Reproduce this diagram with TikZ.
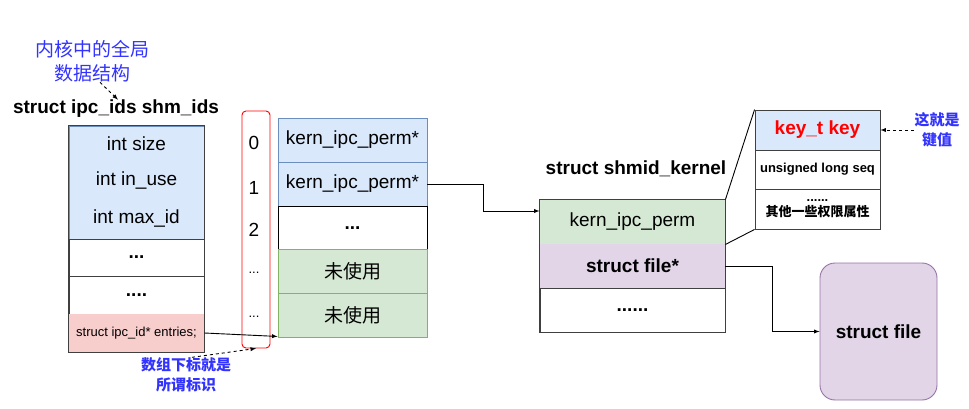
\documentclass[tikz,border=0pt]{standalone}
\usepackage{fontspec}
\setmainfont{Liberation Sans}
\newfontfamily\cjk{Noto Sans CJK SC}
\definecolor{blfill}{HTML}{DAE8FC}
\definecolor{bldraw}{HTML}{6C8EBF}
\definecolor{grfill}{HTML}{D5E8D4}
\definecolor{grdraw}{HTML}{82B366}
\definecolor{pkfill}{HTML}{F8CECC}
\definecolor{pkdraw}{HTML}{B85450}
\definecolor{pufill}{HTML}{E1D5E7}
\definecolor{pudraw}{HTML}{9673A6}
\definecolor{notecol}{HTML}{3333FF}

\begin{document}
\begin{tikzpicture}[x=1pt,y=-1pt,line width=0.9pt,
	every node/.style={inner sep=0pt},
	big/.style={font=\fontsize{19}{23}\selectfont},
	bigb/.style={font=\bfseries\fontsize{19}{23}\selectfont},
	small/.style={font=\fontsize{13}{16}\selectfont},
	smallb/.style={font=\bfseries\fontsize{13}{15}\selectfont},
	note/.style={align=center,text=notecol,font=\cjk\bfseries\fontsize{15}{20}\selectfont},
	idcell/.style={draw=black!75,minimum width=135pt,minimum height=#1},
	arrcell/.style={draw=black!75,minimum width=149pt,minimum height=44pt},
	shmcell/.style={draw=black!75,minimum width=185pt,minimum height=44pt},
	keycell/.style={draw=black!75,minimum width=125pt,minimum height=#1},
	dashedarrow/.style={-latex,dash pattern=on 3pt off 3pt}]
	\useasboundingbox (0,0) rectangle (969,409);
	% struct ipc_ids
	\node[align=center,text=notecol,font=\cjk\fontsize{19}{24}\selectfont] (kernnote) at (92,61) {内核中的全局\\数据结构};
	\node[bigb] (idstitle) at (116,109) {struct ipc\_ids shm\_ids};
	\node[idcell=113pt,fill=blfill,draw=bldraw] (idsblk) at (136.5,182.5) {};
	\node[big] (size) at (136.5,144) {int size};
	\node[big] (inuse) at (136.5,181) {int in\_use};
	\node[big] (maxid) at (136.5,219) {int max\_id};
	\node[idcell=37pt,bigb] (idsdots1) at (136.5,257.5) {...};
	\node[idcell=38pt,bigb] (idsdots2) at (136.5,295) {....};
	\node[idcell=38pt,small,fill=pkfill,draw=pkfill] (entries) at (136.5,333) {struct ipc\_id* entries;};
	\draw[black!75] (idsblk.north west) rectangle (entries.south east);
	% array index
	\node[draw=red,rounded corners=4pt,minimum width=28pt,minimum height=237pt] (idx) at (256,229.5) {};
	\foreach \i/\y in {0/143,1/188,2/230}
		\node[big] (idx\i) at (254,\y) {\i};
	\node[small] (idx3) at (254,273) {...};
	\node[small] (idx4) at (254,317) {...};
	\node[note] (idxnote) at (186,375) {数组下标就是\\所谓标识};
	% array
	\node[arrcell,big,fill=blfill,draw=bldraw] (arr1) at (352.5,140) {kern\_ipc\_perm*};
	\node[arrcell,big,fill=blfill,draw=bldraw] (arr2) at (352.5,184) {kern\_ipc\_perm*};
	\node[arrcell,bigb,draw=black] (arr3) at (352.5,228) {...};
	\node[arrcell,fill=grfill,draw=grdraw,font=\cjk\fontsize{19}{23}\selectfont] (arr4) at (352.5,271) {未使用};
	\node[arrcell,fill=grfill,draw=grdraw,font=\cjk\fontsize{19}{23}\selectfont] (arr5) at (352.5,315) {未使用};
	% struct shmid_kernel
	\node[bigb] (shmtitle) at (636,169) {struct shmid\_kernel};
	\node[shmcell,big,fill=grfill,draw=grfill] (kern) at (632.5,222) {kern\_ipc\_perm};
	\node[shmcell,bigb,fill=pufill,draw=pufill] (filep) at (632.5,266) {struct file*};
	\node[shmcell,bigb] (kdots) at (632.5,310) {......};
	\draw[black!75] (kern.north west) rectangle (kdots.south east);
	% kern_ipc_perm
	\node[keycell=40pt,bigb,text=red,fill=blfill] (keyrow) at (817.5,130) {key\_t key};
	\node[keycell=39pt,smallb] (seq) at (817.5,169.5) {unsigned long seq};
	\node[keycell=40pt,smallb,align=center] (perm) at (817.5,209) {......\\{\cjk 其他一些权限属性}};
	\node[note] (keynote) at (937,130) {这就是\\键值};
	% struct file
	\node[draw=pudraw,fill=pufill,rounded corners=15pt,minimum width=117pt,minimum height=137pt,bigb] (filebox) at (878.5,331.5) {struct file};
	% connectors
	\draw[dashedarrow] ([xshift=8pt]kernnote.south) -- ([xshift=2pt]idstitle.north);
	\draw[-latex] (entries.east) -- ([yshift=1pt]arr5.south west);
	\draw[dashedarrow] ([xshift=6pt]idxnote.north) -- (idx.south);
	\draw[-latex] (arr2.east) -- ++(56,0) |- ([yshift=11pt]kern.west);
	\draw (kern.north east) -- (keyrow.north west);
	\draw (kern.south east) -- (perm.south west);
	\draw[dashedarrow] (keynote.west) -- (keyrow.east);
	\draw[-latex] (filep.east) -- ++(47,0) |- (filebox.west);
\end{tikzpicture}
\end{document}
